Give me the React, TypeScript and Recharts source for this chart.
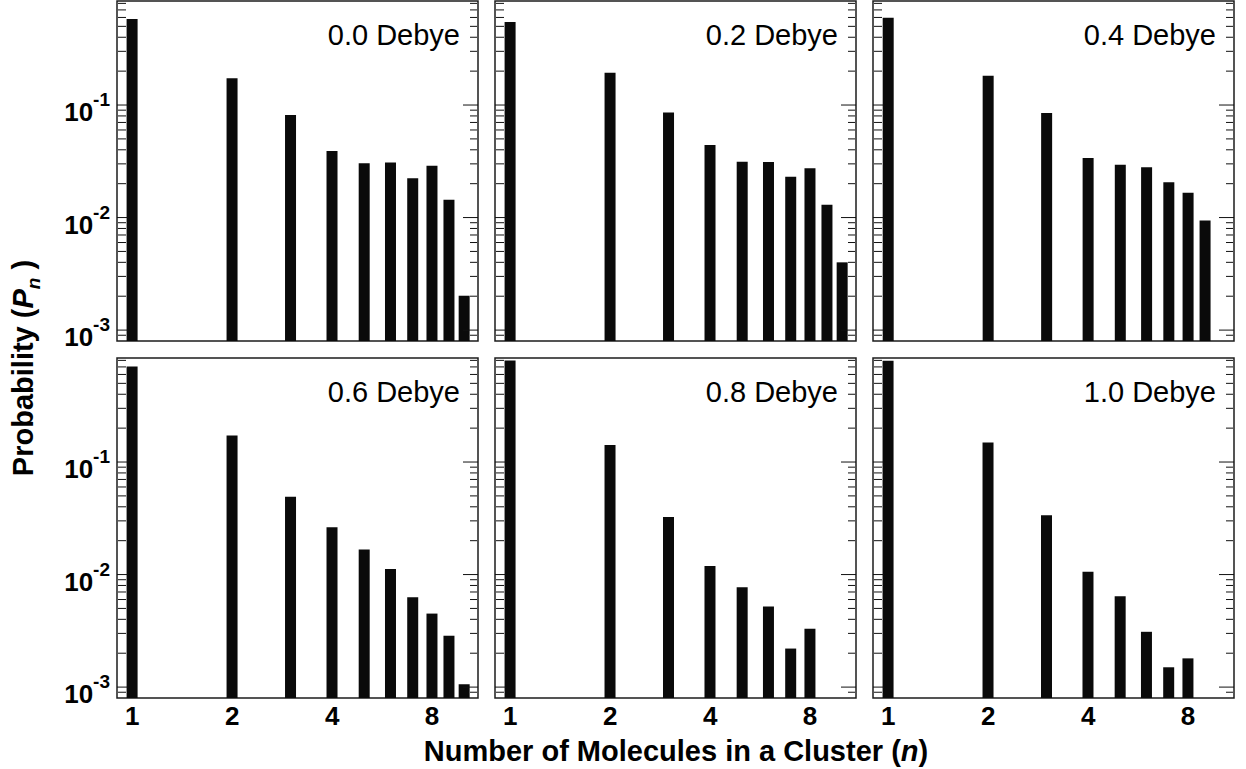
import { Bar, BarChart, ReferenceArea, XAxis, YAxis } from 'recharts';

// cluster size n and the probability P_n of each size, one array per dipole moment
const clusterSizes = [1, 2, 3, 4, 5, 6, 7, 8, 9, 10];
const dipoleLabels = ['0.0 Debye', '0.2 Debye', '0.4 Debye', '0.6 Debye', '0.8 Debye', '1.0 Debye'];

const prob00 = [0.58, 0.173, 0.0815, 0.039, 0.0304, 0.0308, 0.0224, 0.0288, 0.0144, 0.00202];
const prob02 = [0.548, 0.194, 0.086, 0.0441, 0.0314, 0.0312, 0.023, 0.0274, 0.013, 0.004];
const prob04 = [0.596, 0.182, 0.0849, 0.0339, 0.0294, 0.028, 0.0206, 0.0166, 0.0094, null];
const prob06 = [0.705, 0.172, 0.0492, 0.0263, 0.0167, 0.0112, 0.0063, 0.0045, 0.00286, 0.00106];
const prob08 = [0.797, 0.1415, 0.0325, 0.0119, 0.0077, 0.0052, 0.0022, 0.0033, null, null];
const prob10 = [0.793, 0.149, 0.0336, 0.0106, 0.0064, 0.0031, 0.0015, 0.0018, null, null];

const panelValues = [prob00, prob02, prob04, prob06, prob08, prob10];

// tick sets
const xLabelTicks = [1, 2, 4, 8];
const xTopMajor = [1, 10];
const xTopMinor = [1.5, 2, 2.5, 3, 3.5, 4, 4.5, 5, 6, 7, 8, 9];
const xBottomMajor = [1, 2, 4, 8];
const xBottomMinor = [1.5, 2.5, 3, 3.5, 4.5, 5, 6, 7, 9, 10];
const yDecadeTicks = [0.001, 0.01, 0.1];
const yMinorTicks = [
  0.0009,
  0.002, 0.003, 0.004, 0.005, 0.006, 0.007, 0.008, 0.009,
  0.02, 0.03, 0.04, 0.05, 0.06, 0.07, 0.08, 0.09,
  0.2, 0.3, 0.4, 0.5, 0.6, 0.7, 0.8,
];

const X_DOMAIN: [number, number] = [0.9, 11];
const Y_DOMAIN: [number, number] = [8e-4, 0.84];

const PLOT_W = 361;
const PLOT_H = 340;
const COL_LEFT = [117, 495, 873];
const ROW_TOP = [1, 358];

const FONT = '"Liberation Sans", Arial, Helvetica, sans-serif';
const INK = '#111';

const NoLabel = () => <g />;

function PowerTick({ x, y, payload }: any) {
  const exp = Math.round(Math.log10(payload.value));
  return (
    <text x={x} y={y + 16} textAnchor="end" fontFamily={FONT} fontWeight="bold" fontSize={26} fill="#000">
      10
      <tspan dy={-15} fontSize={19}>
        {exp}
      </tspan>
    </text>
  );
}

function CountTick({ x, y, payload }: any) {
  return (
    <text x={x} y={y + 27} textAnchor="middle" fontFamily={FONT} fontWeight="bold" fontSize={26} fill="#000">
      {payload.value}
    </text>
  );
}

function xTickAxis(id: string, orientation: 'top' | 'bottom', ticks: number[], size: number) {
  return (
    <XAxis
      key={id}
      xAxisId={id}
      orientation={orientation}
      mirror
      type="number"
      scale="log"
      domain={X_DOMAIN}
      allowDataOverflow
      ticks={ticks}
      interval={0}
      height={1}
      tickSize={size}
      axisLine={false}
      stroke={INK}
      tick={<NoLabel />}
    />
  );
}

function yTickAxis(id: string, orientation: 'left' | 'right', ticks: number[], size: number) {
  return (
    <YAxis
      key={id}
      yAxisId={id}
      orientation={orientation}
      mirror
      type="number"
      scale="log"
      domain={Y_DOMAIN}
      allowDataOverflow
      ticks={ticks}
      interval={0}
      width={1}
      tickSize={size}
      axisLine={false}
      stroke={INK}
      tick={<NoLabel />}
    />
  );
}

function DipolePanel({ index }: { index: number }) {
  const row = Math.floor(index / 3);
  const col = index % 3;
  const isLeft = col === 0;
  const isBottom = row === 1;
  // the top row keeps room below its plot for the lowest decade label
  const margin = { top: 1, right: 4, bottom: isBottom ? 4 : 24, left: isLeft ? 7 : 4 };
  const leftSpace = isLeft ? 117 : 4;
  const width = leftSpace + PLOT_W + margin.right;
  const height = margin.top + PLOT_H + (isBottom ? 40 : 0) + margin.bottom;

  const data = clusterSizes
    .map((n, i) => ({ n, p: panelValues[index][i] }))
    .filter((d) => d.p != null);

  return (
    <div style={{ position: 'absolute', left: COL_LEFT[col] - leftSpace, top: ROW_TOP[row] - margin.top }}>
      <BarChart width={width} height={height} data={data} margin={margin}>
        <XAxis
          xAxisId={0}
          dataKey="n"
          type="number"
          scale="log"
          domain={X_DOMAIN}
          allowDataOverflow
          ticks={xLabelTicks}
          interval={0}
          hide={!isBottom}
          height={40}
          tickLine={false}
          axisLine={false}
          tickSize={0}
          tickMargin={0}
          tick={<CountTick />}
        />
        <YAxis
          yAxisId={0}
          type="number"
          scale="log"
          domain={Y_DOMAIN}
          allowDataOverflow
          ticks={yDecadeTicks}
          interval={0}
          hide={!isLeft}
          width={110}
          tickLine={false}
          axisLine={false}
          tickSize={0}
          tickMargin={7}
          tick={<PowerTick />}
        />
        {xTickAxis('topMajor', 'top', isBottom ? xBottomMajor : xTopMajor, isBottom ? 15 : 12)}
        {xTickAxis('topMinor', 'top', isBottom ? xBottomMinor : xTopMinor, 7)}
        {isBottom && xTickAxis('bottomMajor', 'bottom', xBottomMajor, 15)}
        {isBottom && xTickAxis('bottomMinor', 'bottom', xBottomMinor, 7)}
        {yTickAxis('leftMajor', 'left', yDecadeTicks, 11)}
        {yTickAxis('leftMinor', 'left', yMinorTicks, 8)}
        {yTickAxis('rightMajor', 'right', yDecadeTicks, 15)}
        {yTickAxis('rightMinor', 'right', yMinorTicks, 7)}
        <Bar xAxisId={0} yAxisId={0} dataKey="p" fill="#0a0a0a" barSize={11} isAnimationActive={false} />
        <ReferenceArea
          xAxisId={0}
          yAxisId={0}
          x1={X_DOMAIN[0]}
          x2={X_DOMAIN[1]}
          y1={Y_DOMAIN[0]}
          y2={Y_DOMAIN[1]}
          fill="none"
          stroke="#1c1c1c"
          strokeWidth={1.5}
          ifOverflow="visible"
        />
      </BarChart>
    </div>
  );
}

export default function App() {
  return (
    <div style={{ position: 'absolute', left: 0, top: 0, width: 1246, height: 769, background: '#fff', overflow: 'hidden' }}>
      {dipoleLabels.map((_, i) => (
        <DipolePanel key={i} index={i} />
      ))}
      <svg width={1246} height={769} style={{ position: 'absolute', left: 0, top: 0, pointerEvents: 'none' }}>
        {dipoleLabels.map((label, i) => (
          <text
            key={label}
            x={COL_LEFT[i % 3] + PLOT_W - 18}
            y={ROW_TOP[Math.floor(i / 3)] + 44}
            textAnchor="end"
            fontFamily={FONT}
            fontSize={29}
            fill="#000"
          >
            {label}
          </text>
        ))}
        <text x={676} y={761} textAnchor="middle" fontFamily={FONT} fontWeight="bold" fontSize={29} fill="#000">
          Number of Molecules in a Cluster (<tspan fontStyle="italic">n</tspan>)
        </text>
        <text
          transform="translate(33, 368) rotate(-90)"
          textAnchor="middle"
          fontFamily={FONT}
          fontWeight="bold"
          fontSize={29}
          fill="#000"
        >
          Probability (<tspan fontStyle="italic">P</tspan>
          <tspan fontStyle="italic" fontSize={19} dy={7}>
            n
          </tspan>
          <tspan dy={-7}> )</tspan>
        </text>
      </svg>
    </div>
  );
}
